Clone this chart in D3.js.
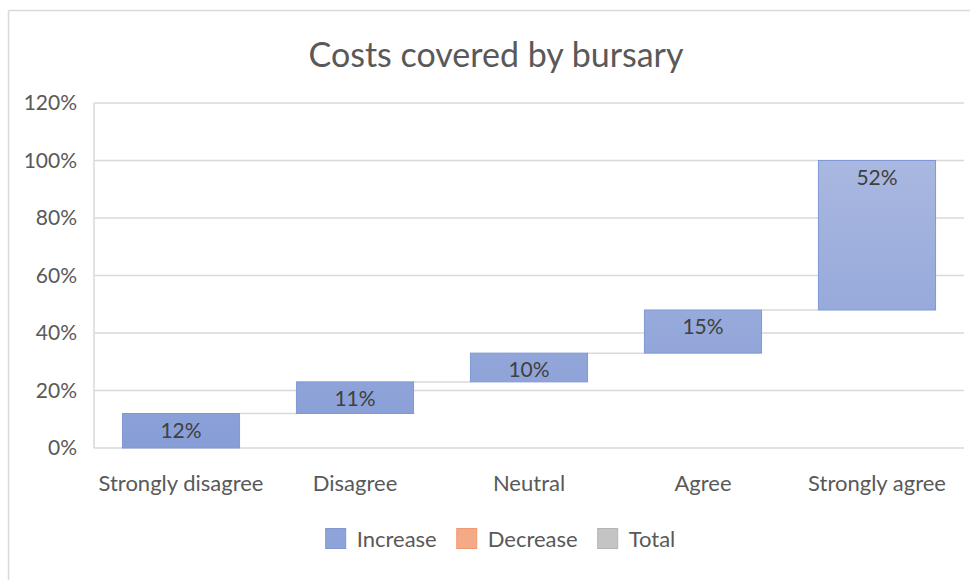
<!DOCTYPE html>
<html>
<head>
<meta charset="utf-8">
<script src="https://cdn.jsdelivr.net/npm/d3@7"></script>
<style>
  html, body { margin: 0; padding: 0; background: #ffffff; }
  svg { display: block; font-family: Lato, "Open Sans", sans-serif; }
</style>
</head>
<body>
<svg id="chart" width="970" height="580"></svg>
<script>
// Waterfall: share of respondents per answer, stacked up to 100%
const categories = ["Strongly disagree", "Disagree", "Neutral", "Agree", "Strongly agree"];
const values = [12, 11, 10, 15, 52];
const yTicks = [0, 20, 40, 60, 80, 100, 120];
const legendItems = ["Increase", "Decrease", "Total"];
const legendColors = ["#8ea3d8", "#f4a987", "#c4c4c4"];
const legendStrokes = ["#7f98d4", "#f09a74", "#b5b5b5"];

const svg = d3.select("#chart");
const W = 970, H = 580;
const plot = { left: 94, right: 964, top: 103, bottom: 448 };

// chart frame (top and left edges visible)
svg.append("line").attr("x1", 8.5).attr("x2", W).attr("y1", 10.5).attr("y2", 10.5)
  .attr("stroke", "#d9d9d9").attr("stroke-width", 1.5);
svg.append("line").attr("x1", 8.5).attr("x2", 8.5).attr("y1", 10.5).attr("y2", H)
  .attr("stroke", "#d9d9d9").attr("stroke-width", 1.5);

// running totals
let acc = 0;
const steps = values.map((v, i) => {
  const s = { cat: categories[i], value: v, start: acc, end: acc + v };
  acc += v;
  return s;
});

const x = d3.scaleBand().domain(categories)
  .range([plot.left, plot.right]).paddingInner(0.327).paddingOuter(0.1635);
const y = d3.scaleLinear().domain([0, 120]).range([plot.bottom, plot.top]);

// gradient for increase bars
const defs = svg.append("defs");
const grad = defs.append("linearGradient").attr("id", "incGrad")
  .attr("gradientUnits", "userSpaceOnUse")
  .attr("x1", 0).attr("x2", 0).attr("y1", y(100)).attr("y2", y(0));
grad.append("stop").attr("offset", "0%").attr("stop-color", "#a9b8e0");
grad.append("stop").attr("offset", "100%").attr("stop-color", "#879dd6");

// title
svg.append("text").attr("x", 496).attr("y", 67).attr("text-anchor", "middle")
  .attr("font-size", 34).attr("fill", "#595959").text("Costs covered by bursary");

// gridlines
svg.append("g").selectAll("line").data(yTicks).join("line")
  .attr("x1", plot.left).attr("x2", plot.right)
  .attr("y1", d => y(d)).attr("y2", d => y(d))
  .attr("stroke", "#d9d9d9").attr("stroke-width", 1.5);

// y axis line
svg.append("line").attr("x1", plot.left).attr("x2", plot.left)
  .attr("y1", y(120)).attr("y2", y(0))
  .attr("stroke", "#d9d9d9").attr("stroke-width", 1.5);

// y axis labels
const yAxis = d3.axisLeft(y).tickValues(yTicks).tickFormat(d => d + "%").tickSize(0).tickPadding(17);
const yg = svg.append("g").attr("transform", `translate(${plot.left},0)`).call(yAxis);
yg.select(".domain").remove();
yg.selectAll("text").attr("font-size", 21).attr("fill", "#595959")
  .attr("font-family", "Lato, 'Open Sans', sans-serif");

// x axis labels
const xAxis = d3.axisBottom(x).tickSize(0).tickPadding(27);
const xg = svg.append("g").attr("transform", `translate(0,${plot.bottom})`).call(xAxis);
xg.select(".domain").remove();
xg.selectAll("text").attr("font-size", 22).attr("fill", "#595959")
  .attr("font-family", "Lato, 'Open Sans', sans-serif");

// connector lines between consecutive bars
svg.append("g").selectAll("line").data(steps.slice(0, -1)).join("line")
  .attr("x1", d => x(d.cat) + x.bandwidth())
  .attr("x2", (d, i) => x(categories[i + 1]))
  .attr("y1", d => y(d.end)).attr("y2", d => y(d.end))
  .attr("stroke", "#d9d9d9").attr("stroke-width", 1.5);

// bars
svg.append("g").selectAll("rect").data(steps).join("rect")
  .attr("x", d => x(d.cat))
  .attr("width", x.bandwidth())
  .attr("y", d => y(d.end))
  .attr("height", d => y(d.start) - y(d.end))
  .attr("fill", "url(#incGrad)")
  .attr("stroke", "#7f98d4").attr("stroke-width", 1);

// value labels, inside end of each bar
svg.append("g").selectAll("text").data(steps).join("text")
  .attr("x", d => x(d.cat) + x.bandwidth() / 2)
  .attr("y", d => y(d.end) + 24)
  .attr("text-anchor", "middle")
  .attr("font-size", 21).attr("fill", "#404040")
  .text(d => d.value + "%");

// legend
const lg = svg.append("g");
const items = lg.selectAll("g").data(legendItems).join("g");
items.append("rect").attr("width", 20).attr("height", 20).attr("y", 528.5)
  .attr("fill", (d, i) => legendColors[i]).attr("stroke", (d, i) => legendStrokes[i]);
items.append("text").attr("x", 31).attr("y", 547).attr("font-size", 22)
  .attr("fill", "#595959").text(d => d);
let cx = 0;
items.each(function () {
  const w = 31 + this.querySelector("text").getComputedTextLength();
  d3.select(this).attr("transform", `translate(${cx},0)`);
  cx += w + 20;
});
const total = cx - 20;
lg.attr("transform", `translate(${500.5 - total / 2},0)`);
</script>
</body>
</html>
